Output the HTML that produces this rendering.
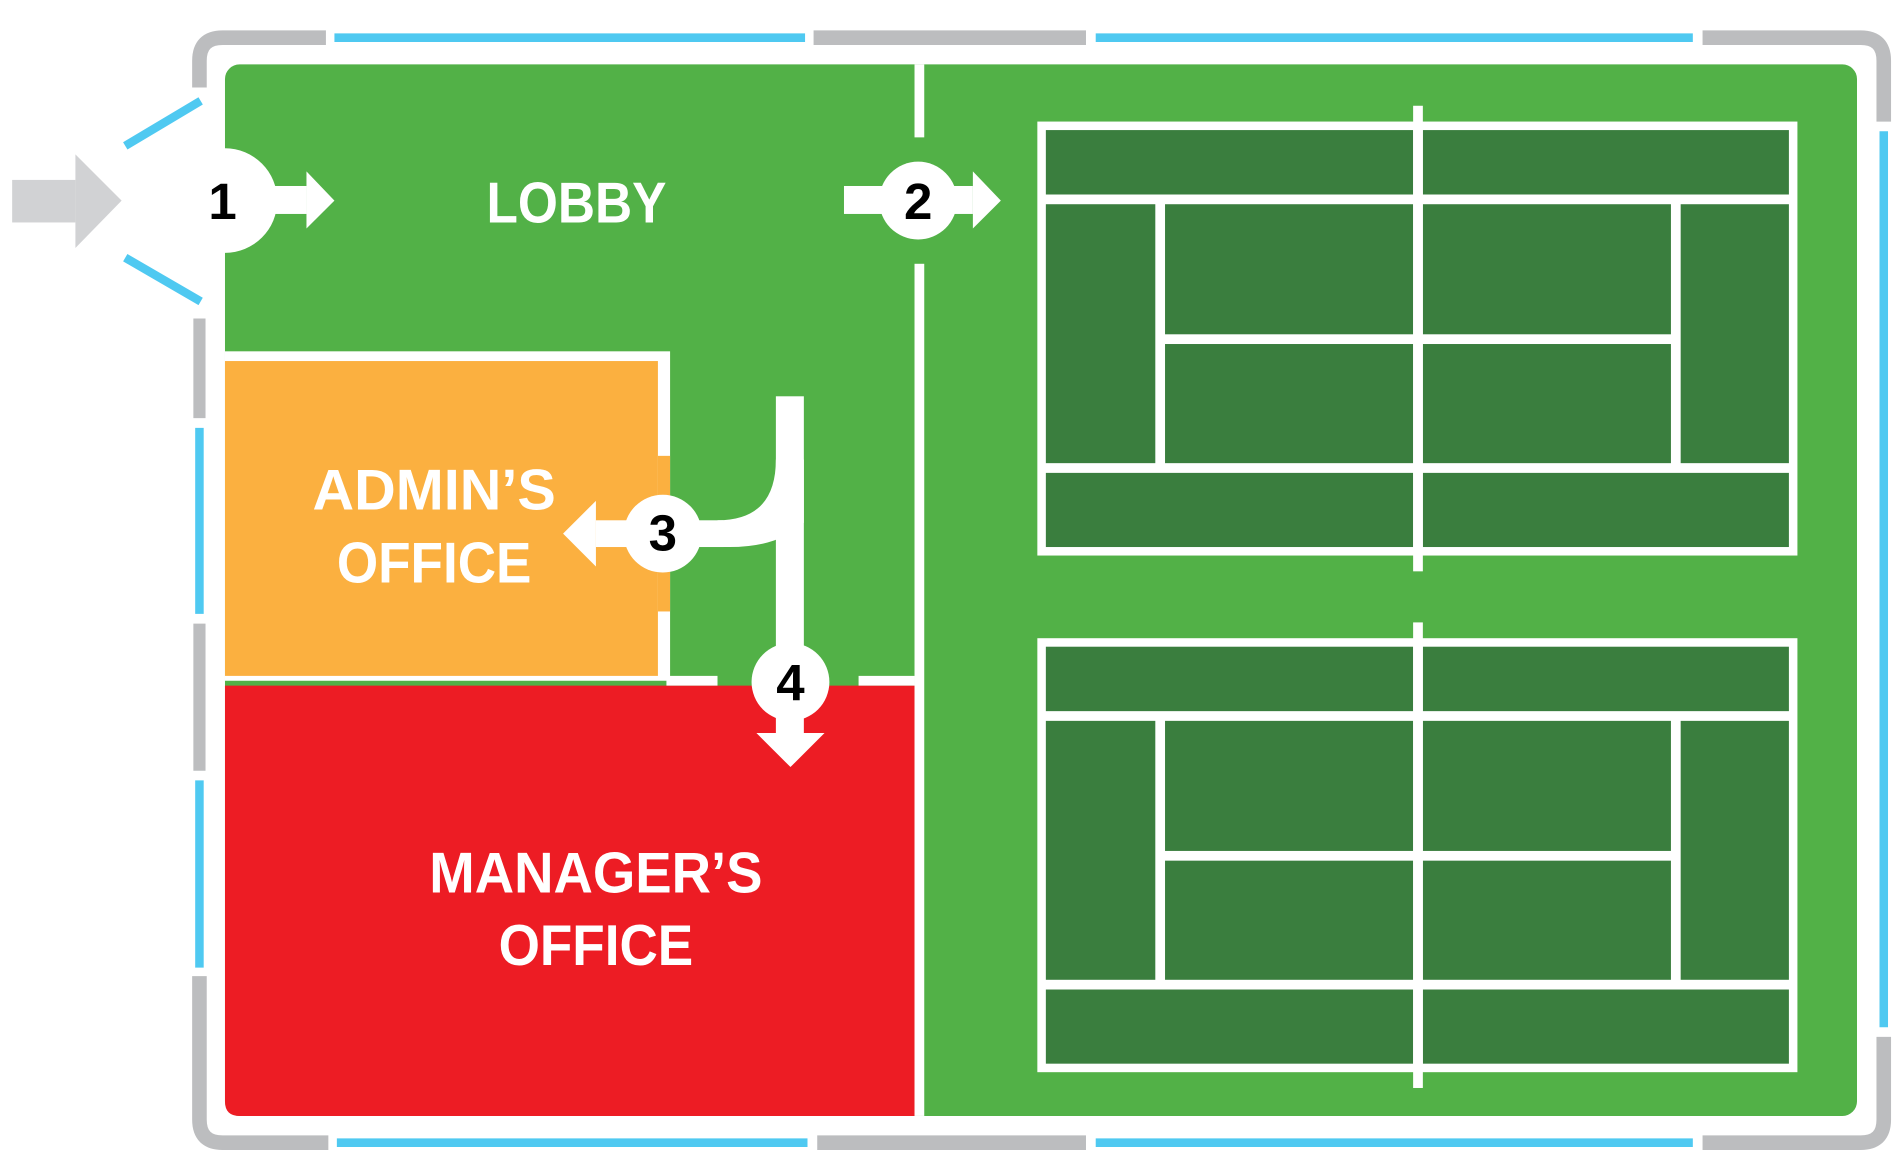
<!DOCTYPE html>
<html><head><meta charset="utf-8"><style>html,body{margin:0;padding:0;background:#fff}svg{display:block}</style></head>
<body>
<svg width="1902" height="1167" viewBox="0 0 1564 960" preserveAspectRatio="none" xmlns="http://www.w3.org/2000/svg">
<defs>
<g id="court">
<rect x="853" y="100" width="625" height="357" fill="#fff"/>
<g fill="#3a7e3e">
<rect x="860" y="107" width="302" height="53"/><rect x="1170" y="107" width="301" height="53"/>
<rect x="860" y="168" width="90" height="213"/>
<rect x="958" y="168" width="204" height="107"/><rect x="958" y="283" width="204" height="98"/>
<rect x="1170" y="168" width="204" height="107"/><rect x="1170" y="283" width="204" height="98"/>
<rect x="1382" y="168" width="89" height="213"/>
<rect x="860" y="389" width="302" height="61"/><rect x="1170" y="389" width="301" height="61"/>
</g>
<rect x="1162" y="87" width="8" height="383" fill="#fff"/>
</g>
</defs>
<!-- outer wall -->
<g fill="none" stroke-linecap="butt">
<path d="M164 72 V50 Q164 31 183 31 H268" stroke="#bcbdbf" stroke-width="12"/>
<path d="M669 31 H893" stroke="#bcbdbf" stroke-width="12"/>
<path d="M1400 31 H1530 Q1549 31 1549 50 V100" stroke="#bcbdbf" stroke-width="12"/>
<path d="M1549 853 V921 Q1549 940 1530 940 H1400" stroke="#bcbdbf" stroke-width="12"/>
<path d="M893 940 H672" stroke="#bcbdbf" stroke-width="12"/>
<path d="M270 940 H183 Q164 940 164 921 V803" stroke="#bcbdbf" stroke-width="12"/>
<path d="M164 262 V344 M164 513 V634" stroke="#bcbdbf" stroke-width="10"/>
<g stroke="#4fc9f1" stroke-width="7">
<path d="M275 31 H662 M901 31 H1392 M1549 108 V845 M277 940 H664 M901 940 H1392 M164 352 V505 M164 642 V796"/>
<path d="M103 120 L165 83 M103 212 L165 248"/>
</g>
</g>
<!-- building -->
<rect x="185" y="53" width="1342" height="865" rx="12" fill="#52b147"/>
<rect x="185" y="289" width="366" height="271" fill="#fff"/>
<rect x="185" y="297" width="356" height="259" fill="#fbb040"/>
<rect x="541" y="375" width="10" height="128" fill="#fbb040"/>
<path d="M185 564 H752 V918 H197 Q185 918 185 906 Z" fill="#ed1c24"/>
<rect x="548" y="556" width="42" height="8" fill="#fff"/>
<rect x="706" y="556" width="46" height="8" fill="#fff"/>
<rect x="752" y="53" width="8" height="60" fill="#fff"/>
<rect x="752" y="217" width="8" height="701" fill="#fff"/>
<use href="#court"/>
<use href="#court" y="425"/>
<!-- door 1 -->
<rect x="10" y="148" width="52" height="35" fill="#d1d2d4"/>
<polygon points="62,127 100,165 62,204" fill="#d1d2d4"/>
<circle cx="185" cy="165" r="43" fill="#fff"/>
<rect x="200" y="153" width="52" height="23" fill="#fff"/>
<polygon points="252,141 275,165 252,188" fill="#fff"/>
<!-- door 2 -->
<rect x="694" y="153" width="106" height="23" fill="#fff"/>
<polygon points="800,141 823,165 800,188" fill="#fff"/>
<circle cx="755" cy="165" r="32" fill="#fff"/>
<!-- door 3/4 pipe -->
<rect x="638" y="326" width="23" height="280" fill="#fff"/>
<path d="M661 378 L661 430 Q640 450 600 450 L590 450 L590 428 Q638 428 638 378 Z" fill="#fff"/>
<rect x="490" y="428" width="105" height="22" fill="#fff"/>
<polygon points="490,412 463,439 490,466" fill="#fff"/>
<circle cx="545" cy="439" r="32" fill="#fff"/>
<polygon points="622,603 650,631 678,603" fill="#fff"/>
<circle cx="650" cy="561" r="32" fill="#fff"/>
<!-- labels -->
<g font-family="'Liberation Sans Narrow','Liberation Sans',sans-serif" font-weight="bold" fill="#fff" text-anchor="middle">
<text x="474" y="183" font-size="47" textLength="148" lengthAdjust="spacingAndGlyphs">LOBBY</text>
<text x="357" y="419" font-size="47" textLength="200" lengthAdjust="spacingAndGlyphs">ADMIN’S</text>
<text x="357" y="479" font-size="47" textLength="160" lengthAdjust="spacingAndGlyphs">OFFICE</text>
<text x="490" y="734" font-size="47" textLength="274" lengthAdjust="spacingAndGlyphs">MANAGER’S</text>
<text x="490" y="794" font-size="47" textLength="160" lengthAdjust="spacingAndGlyphs">OFFICE</text>
</g>
<g font-family="'Liberation Sans Narrow','Liberation Sans',sans-serif" font-weight="bold" fill="#000" text-anchor="middle" font-size="42">
<text x="183" y="180">1</text>
<text x="755" y="180">2</text>
<text x="545" y="453">3</text>
<text x="650" y="576">4</text>
</g>
</svg>
</body></html>
